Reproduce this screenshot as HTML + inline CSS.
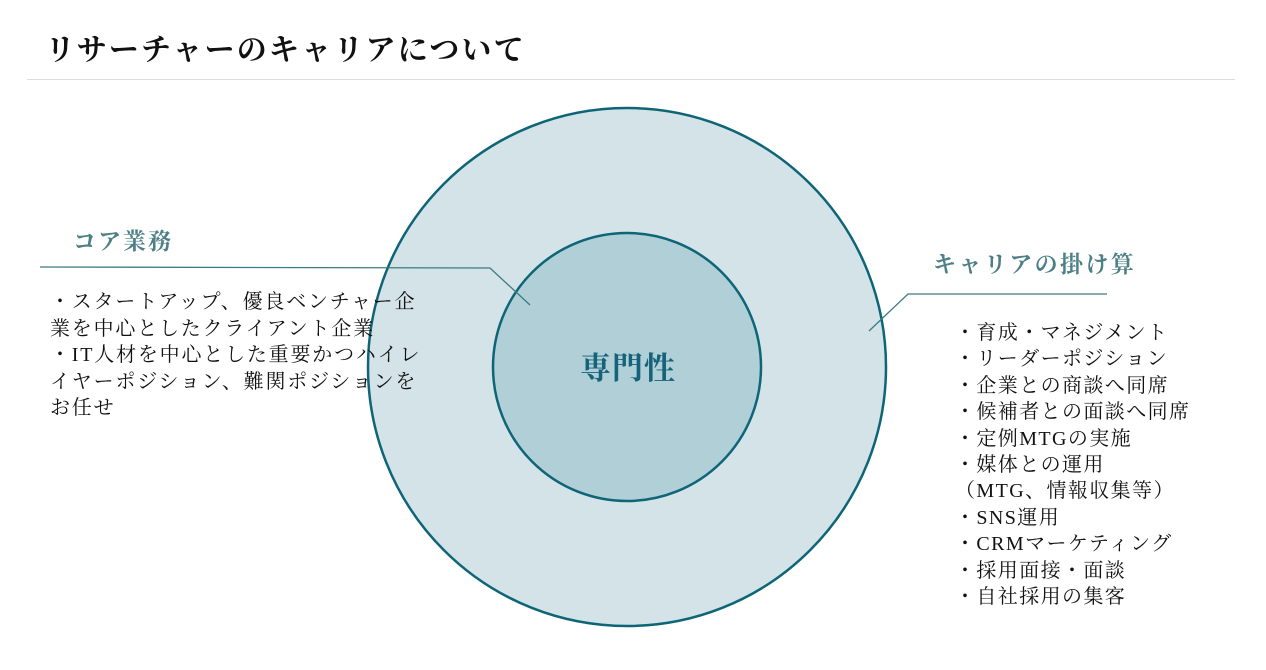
<!DOCTYPE html>
<html><head><meta charset="utf-8"><style>
body{margin:0;width:1266px;height:670px;background:#fff;position:relative;overflow:hidden;font-family:"Liberation Serif","Noto Serif CJK SC",serif;color:#111}
.t{position:absolute;white-space:nowrap}
</style></head><body>
<div class="t" style="left:45px;top:25px;font-size:30px;font-weight:bold;letter-spacing:2.2px">リサーチャーのキャリアについて</div>
<div style="position:absolute;left:27px;top:79px;width:1208px;height:1px;background:#ddd"></div>
<svg width="1266" height="670" style="position:absolute;left:0;top:0">
<circle cx="627" cy="367" r="259" fill="#d3e3e8" stroke="#0e6577" stroke-width="2.5"/>
<circle cx="627" cy="367" r="134" fill="#b0cfd7" stroke="#0e6577" stroke-width="2.5"/>
<polyline points="40,267 490,268 530,305" fill="none" stroke="#3d7b84" stroke-width="1.3"/>
<polyline points="1107,294 908,294 869,331" fill="none" stroke="#3d7b84" stroke-width="1.3"/>
<text x="628" y="379" text-anchor="middle" font-size="31" font-weight="bold" fill="#16627a" letter-spacing="1" font-family="Liberation Serif, Noto Serif CJK SC, serif">専門性</text>
</svg>
<div class="t" style="left:73px;top:223px;font-size:23px;font-weight:bold;color:#4d7f86;letter-spacing:2px">コア業務</div>
<div class="t" style="left:933px;top:246px;font-size:23px;font-weight:bold;color:#4d7f86;letter-spacing:2.4px">キャリアの掛け算</div>
<div class="t" style="left:50px;top:289px;font-size:20px;line-height:26.5px;letter-spacing:1.8px">・スタートアップ、優良ベンチャー企<br>業を中心としたクライアント企業<br>・IT人材を中心とした重要かつハイレ<br>イヤーポジション、難関ポジションを<br>お任せ</div>
<div class="t" style="left:955px;top:320px;font-size:20px;line-height:26.4px;letter-spacing:1.4px">・育成・マネジメント<br>・リーダーポジション<br>・企業との商談へ同席<br>・候補者との面談へ同席<br>・定例MTGの実施<br>・媒体との運用<br>（MTG、情報収集等）<br>・SNS運用<br>・CRMマーケティング<br>・採用面接・面談<br>・自社採用の集客</div>
</body></html>
